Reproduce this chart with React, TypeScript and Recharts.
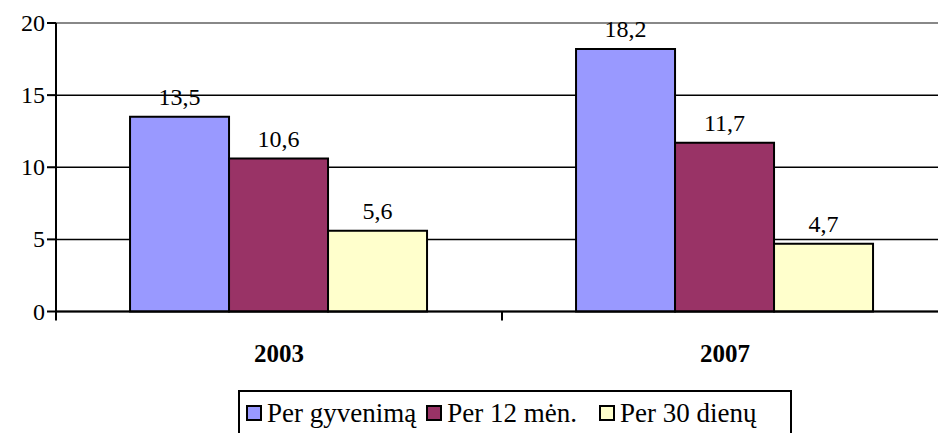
import React from 'react';
import { BarChart, Bar, XAxis, YAxis, CartesianGrid, ReferenceLine, LabelList } from 'recharts';

const categories = ['2003', '2007'];
const perGyvenima = [13.5, 18.2];
const per12men = [10.6, 11.7];
const per30dienu = [5.6, 4.7];
const yTicks = [0, 5, 10, 15, 20];

const seriesNames = ['Per gyvenimą', 'Per 12 mėn.', 'Per 30 dienų'];
const seriesKeys = ['a', 'b', 'c'];
const seriesColors = ['#9999FF', '#993366', '#FFFFCC'];

const data = categories.map((c, i) => ({
  name: c,
  a: perGyvenima[i],
  b: per12men[i],
  c: per30dienu[i],
}));

const FONT = '"Liberation Serif", Tinos, "Times New Roman"';

const fmt = (v: any) => String(v).replace('.', ',');

const YTick = (props: any) => {
  const { x, y, payload } = props;
  return (
    <text x={x} y={y} dy={8} textAnchor="end" fill="#000" style={{ fontFamily: FONT, fontSize: 24 }}>
      {payload.value}
    </text>
  );
};

const XTick = (props: any) => {
  const { x, y, payload, index } = props;
  const off = payload && typeof payload.offset === 'number' && payload.offset > 0 ? payload.offset : 223;
  return (
    <g>
      <line x1={x - off} x2={x - off} y1={y} y2={y + 9} stroke="#000" strokeWidth={2} />
      {index === categories.length - 1 && (
        <line x1={x + off} x2={x + off} y1={y} y2={y + 9} stroke="#000" strokeWidth={2} />
      )}
      <text x={x} y={y + 50} textAnchor="middle" fill="#000" style={{ fontFamily: FONT, fontSize: 25, fontWeight: 'bold' }}>
        {payload.value}
      </text>
    </g>
  );
};

const BarLabel = (props: any) => {
  const { x, y, width, value } = props;
  return (
    <text x={x + width / 2} y={y - 12} textAnchor="middle" fill="#000" style={{ fontFamily: FONT, fontSize: 24 }}>
      {fmt(value)}
    </text>
  );
};

export default function App() {
  return (
    <div style={{ position: 'absolute', left: 0, top: 0, width: 938, height: 433, overflow: 'hidden', background: '#fff' }}>
      <BarChart
        width={948}
        height={433}
        data={data}
        margin={{ top: 23, right: 0, left: 0, bottom: 71.5 }}
        barCategoryGap="16.6%"
        barGap={0}
      >
        <CartesianGrid vertical={false} stroke="#000" strokeWidth={1.5} />
        <ReferenceLine y={20} stroke="#888" strokeWidth={2} />
        <YAxis
          domain={[0, 20]}
          ticks={yTicks}
          width={56}
          tickSize={9}
          tickMargin={2}
          axisLine={{ stroke: '#000', strokeWidth: 2 }}
          tickLine={{ stroke: '#000', strokeWidth: 2 }}
          tick={<YTick />}
          interval={0}
        />
        <XAxis
          dataKey="name"
          height={50}
          tickSize={0}
          tickMargin={0}
          tickLine={false}
          axisLine={{ stroke: '#000', strokeWidth: 2 }}
          tick={<XTick />}
          interval={0}
        />
        {seriesKeys.map((k, i) => (
          <Bar key={k} dataKey={k} name={seriesNames[i]} fill={seriesColors[i]} stroke="#000" strokeWidth={2} isAnimationActive={false}>
            <LabelList dataKey={k} content={<BarLabel />} />
          </Bar>
        ))}
      </BarChart>
      <div
        style={{
          position: 'absolute',
          left: 238,
          top: 390,
          width: 554,
          height: 60,
          border: '2px solid #000',
          boxSizing: 'border-box',
          display: 'flex',
          alignItems: 'flex-start',
          paddingLeft: 6,
          paddingTop: 6,
          fontFamily: FONT,
          fontSize: 27,
          color: '#000',
          background: '#fff',
          whiteSpace: 'nowrap',
          overflow: 'hidden',
        }}
      >
        {seriesNames.map((n, i) => (
          <div
            key={n}
            style={{ display: 'flex', alignItems: 'center', flexShrink: 0, marginRight: i === 0 ? 10 : 22, lineHeight: '30px', whiteSpace: 'nowrap' }}
          >
            <span
              style={{
                display: 'inline-block',
                flexShrink: 0,
                width: 12,
                height: 12,
                background: seriesColors[i],
                border: '2px solid #000',
                marginRight: 5,
              }}
            />
            <span style={{ fontFamily: FONT, whiteSpace: 'nowrap' }}>{n}</span>
          </div>
        ))}
      </div>
    </div>
  );
}
